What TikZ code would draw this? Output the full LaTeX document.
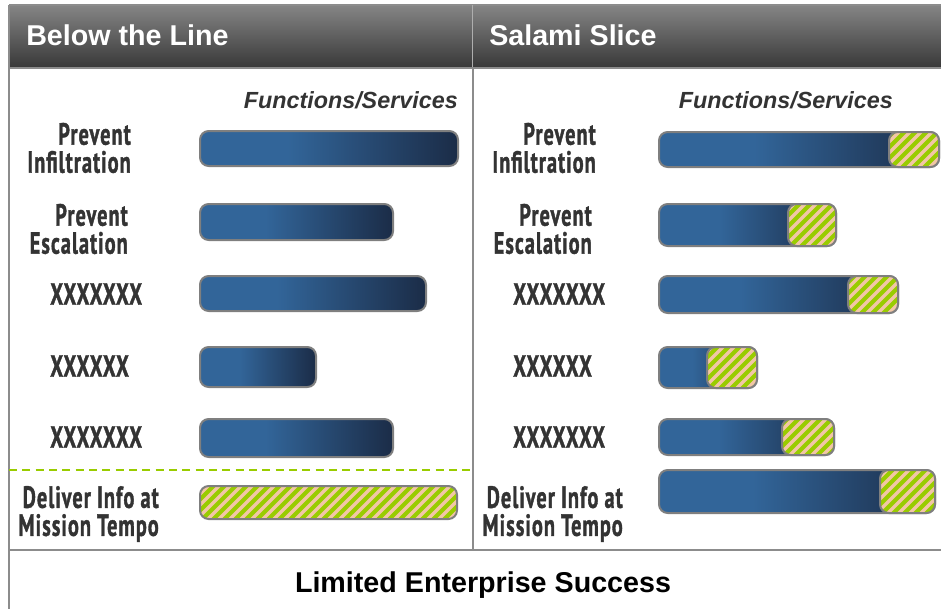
\documentclass[tikz,border=0pt]{standalone}
\usepackage{fontspec}
\setmainfont{Liberation Sans}
\newfontfamily\lblfont[FakeStretch=0.66, FakeBold=1.2, LetterSpace=3.5]{PT Sans Bold}

\definecolor{barL}{HTML}{326599}
\definecolor{barR}{HTML}{1B2C47}
\definecolor{barEdge}{HTML}{7F7F7F}
\definecolor{slGreen}{HTML}{99CC00}
\definecolor{slPink}{HTML}{F2C6A6}
\definecolor{frameGray}{HTML}{8C8C8C}
\definecolor{hdrTop}{HTML}{858585}
\definecolor{hdrBot}{HTML}{383838}
\definecolor{lblGray}{HTML}{333333}

\pgfdeclarehorizontalshading{barshade}{100bp}{color(0bp)=(barL); color(25bp)=(barL); color(42bp)=(barL); color(75bp)=(barR); color(100bp)=(barR)}

\tikzset{
  frameline/.style={draw=frameGray, line width=1.5pt},
  barbox/.style={draw=barEdge, line width=1.5pt, rounded corners=6.5},
  hdrtext/.style={text=white, font=\bfseries\fontsize{21.5}{24}\selectfont, inner sep=0pt},
  fstext/.style={text=lblGray, font=\bfseries\itshape\fontsize{17.5}{20}\selectfont, inner sep=0pt},
  rowlabel/.style={text=lblGray, font=\lblfont\fontsize{23}{21}\selectfont, inner sep=0pt, align=right},
}

% plain blue bar: x1 y1 x2 y2
\newcommand\bluebar[4]{%
  \path[barbox, shading=barshade] (#1,#2) rectangle (#3,#4);}
% green/pink hatched bar: x1 y1 x2 y2
\newcommand\slicebar[4]{%
  \begin{scope}
    \clip[rounded corners=6.5] (#1,#2) rectangle (#3,#4);
    \fill[slGreen] (#1,#2) rectangle (#3,#4);
    \foreach \s in {-60,-49,...,300}
      \draw[slPink, line width=2.6pt] (#1+\s,#4+2) -- ++(60,-60);
  \end{scope}
  \draw[barbox] (#1,#2) rectangle (#3,#4);}

\begin{document}
\begin{tikzpicture}[x=0.75pt, y=-0.75pt]
\useasboundingbox (0,0) rectangle (941,608);
\clip (0,0) rectangle (941,608);

% header band
\shade[top color=hdrTop, bottom color=hdrBot] (9,5) rectangle (950,68);
\draw[frameGray, line width=1pt] (9,5) -- (950,5);
\draw[frameGray!70!white, line width=1pt] (472.5,5) -- (472.5,68);
\draw[frameline] (9,68) -- (950,68);

% body frame
\draw[frameline] (9,5) -- (9,612);
\draw[frameline] (473,68) -- (473,550);
\draw[frameline] (9,550) -- (950,550);

% dashed line above the tempo row
\draw[slGreen, line width=1.2pt, dash pattern=on 6pt off 4pt] (9,470) -- (472,470);

% headings
\node[hdrtext, anchor=base west] (hL) at (26,45) {Below the Line};
\node[hdrtext, anchor=base west] (hR) at (489,45) {Salami Slice};
\node[fstext, anchor=base east] (fL) at (458,108) {Functions/Services};
\node[fstext, anchor=base east] (fR) at (893,108) {Functions/Services};
\node[anchor=base, inner sep=0pt, font=\bfseries\fontsize{21.5}{24}\selectfont] (res) at (483,592) {Limited Enterprise Success};

% left panel labels
\node[rowlabel, anchor=east] (l1) at (131,148) {Prevent\\Infiltration};
\node[rowlabel, anchor=east] (l2) at (128,229) {Prevent\\Escalation};
\node[rowlabel, anchor=west] (l3) at (50,294) {XXXXXXX};
\node[rowlabel, anchor=west] (l4) at (50,366) {XXXXXX};
\node[rowlabel, anchor=west] (l5) at (50,437) {XXXXXXX};
\node[rowlabel, anchor=east] (l6) at (159,514) {Deliver Info at\\Mission Tempo};

% right panel labels
\node[rowlabel, anchor=east] (r1) at (596,148) {Prevent\\Infiltration};
\node[rowlabel, anchor=east] (r2) at (592,229) {Prevent\\Escalation};
\node[rowlabel, anchor=west] (r3) at (513,294) {XXXXXXX};
\node[rowlabel, anchor=west] (r4) at (513,366) {XXXXXX};
\node[rowlabel, anchor=west] (r5) at (513,437) {XXXXXXX};
\node[rowlabel, anchor=east] (r6) at (623,514) {Deliver Info at\\Mission Tempo};

% left panel bars
\bluebar{200}{131}{458}{166}
\bluebar{200}{204}{393}{240}
\bluebar{200}{276}{426}{311}
\bluebar{200}{347}{316}{387}
\bluebar{200}{419}{393}{457}
\slicebar{200}{486}{457}{519}

% right panel bars with sliced ends
\bluebar{659}{132}{939}{167}  \slicebar{889}{132}{939}{167}
\bluebar{659}{204}{836}{246}  \slicebar{788}{204}{836}{246}
\bluebar{659}{276}{898}{313}  \slicebar{848}{276}{898}{313}
\bluebar{659}{347}{757}{388}  \slicebar{707}{347}{757}{388}
\bluebar{659}{419}{834}{455}  \slicebar{782}{419}{834}{455}
\bluebar{659}{470}{935}{513}  \slicebar{880}{470}{935}{513}
\end{tikzpicture}
\end{document}
